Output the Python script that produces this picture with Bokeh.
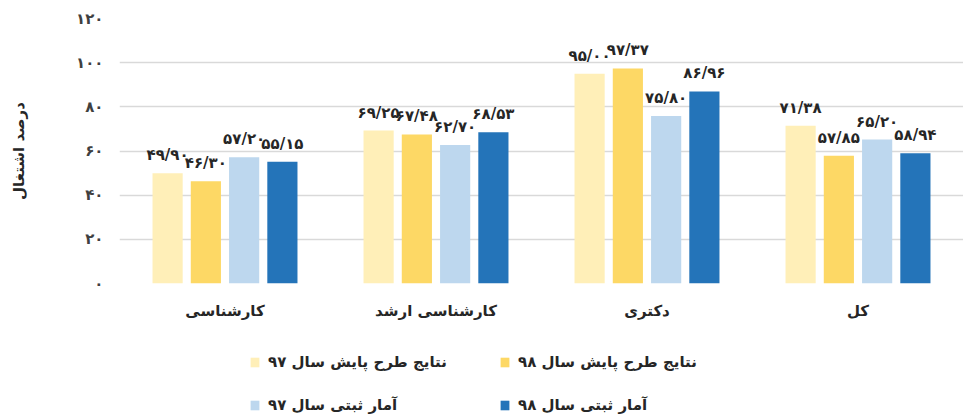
from bokeh.plotting import figure
from bokeh.layouts import column
from bokeh.models import ColumnDataSource, FixedTicker, Legend, LegendItem
from bokeh.transform import dodge
from bokeh.core.properties import value
from bokeh.embed import file_html
from bokeh.resources import INLINE

# ---- data ----
categories = ["کارشناسی", "کارشناسی ارشد", "دکتری", "کل"]
series_names = ["نتایج طرح پایش سال ۹۷", "نتایج طرح پایش سال ۹۸",
                "آمار ثبتی سال ۹۷", "آمار ثبتی سال ۹۸"]
survey_97 = [49.90, 69.25, 95.00, 71.38]
survey_98 = [46.30, 67.48, 97.37, 57.85]
registry_97 = [57.20, 62.70, 75.80, 65.20]
registry_98 = [55.15, 68.53, 86.96, 58.94]
y_ticks = [0, 20, 40, 60, 80, 100, 120]
y_label = "درصد اشتغال"

colors = ["#FFEFB8", "#FDD865", "#BDD7EE", "#2474B9"]
offsets = [-0.272, -0.0907, 0.0907, 0.272]

FA = str.maketrans("0123456789", "۰۱۲۳۴۵۶۷۸۹")


def fa(s):
    return str(s).translate(FA)


def fa_val(v):
    return fa(f"{v:.2f}".replace(".", "/"))


FONT = "DejaVu Sans"

p = figure(x_range=categories, y_range=(0, 120), width=963, height=330,
           output_backend="svg", toolbar_location=None,
           min_border_left=119, min_border_right=0, min_border_top=18,
           min_border_bottom=47)
p.outline_line_color = None
p.background_fill_color = "white"
p.border_fill_color = "white"

all_series = [survey_97, survey_98, registry_97, registry_98]
for vals, col, off in zip(all_series, colors, offsets):
    src = ColumnDataSource(dict(cat=categories, val=vals,
                                lab=[fa_val(v) for v in vals]))
    p.vbar(x=dodge("cat", off, range=p.x_range), top="val", width=0.143,
           source=src, fill_color=col, line_color=None)
    p.text(x=dodge("cat", off, range=p.x_range), y="val", text="lab", source=src,
           text_align="center", text_baseline="bottom", y_offset=-9,
           text_font=value(FONT), text_font_style="bold",
           text_font_size="15px", text_color="#262626")

# axes
p.yaxis.ticker = FixedTicker(ticks=y_ticks)
p.yaxis.major_label_overrides = {t: fa(t) for t in y_ticks}
p.yaxis.axis_line_color = None
p.yaxis.major_tick_line_color = None
p.yaxis.minor_tick_line_color = None
p.yaxis.major_label_text_font = FONT
p.yaxis.major_label_text_font_style = "bold"
p.yaxis.major_label_text_font_size = "15px"
p.yaxis.major_label_text_color = "#404040"
p.yaxis.major_label_standoff = 10
p.yaxis.axis_label = y_label
p.yaxis.axis_label_text_font = FONT
p.yaxis.axis_label_text_font_style = "bold"
p.yaxis.axis_label_text_font_size = "15px"
p.yaxis.axis_label_text_color = "#262626"
p.yaxis.axis_label_standoff = 45

p.xaxis.axis_line_color = None
p.xaxis.major_tick_line_color = None
p.xaxis.minor_tick_line_color = None
p.xaxis.major_label_text_font = FONT
p.xaxis.major_label_text_font_style = "bold"
p.xaxis.major_label_text_font_size = "15px"
p.xaxis.major_label_text_color = "#262626"
p.xaxis.major_label_standoff = 12

p.xgrid.grid_line_color = None
p.ygrid.grid_line_color = "#D9D9D9"
p.ygrid.grid_line_width = 1.5

# ---- legend figure (bars fall outside its y range, only the legend shows) ----
lg = figure(width=963, height=87, output_backend="svg", toolbar_location=None,
            min_border=0, x_range=categories, y_range=(1000, 1001))
lg.axis.visible = False
lg.grid.visible = False
lg.outline_line_color = None
rend = {}
for name, vals, col in zip(series_names, all_series, colors):
    rend[name] = lg.vbar(x=categories, top=vals, width=0.1,
                         fill_color=col, line_color=None)

# column-major fill: left column = 97 items, right column = 98 items
order = [series_names[0], series_names[2], series_names[1], series_names[3]]
items = [LegendItem(label=n, renderers=[rend[n]]) for n in order]
legend = Legend(items=items, ncols=2, location=(130, 2),
                label_text_font=FONT, label_text_font_style="bold",
                label_text_font_size="15px", label_text_color="#262626",
                glyph_width=11, glyph_height=12, label_standoff=8,
                label_width=208, label_height=20, spacing=23,
                padding=0, margin=0, border_line_color=None,
                background_fill_alpha=0)
lg.add_layout(legend, "center")

layout = column(p, lg, spacing=0)
open("out.html", "w").write(file_html(layout, INLINE))
